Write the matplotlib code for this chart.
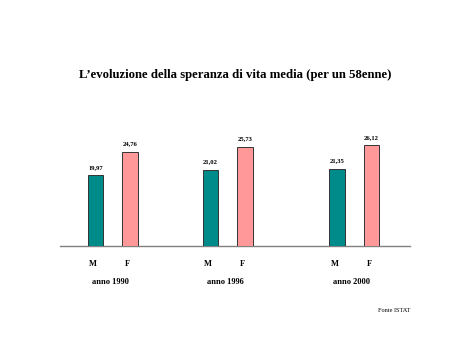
import matplotlib
matplotlib.use("Agg")
import matplotlib.pyplot as plt

years = ["anno 1990", "anno 1996", "anno 2000"]
sexes = ["M", "F"]
male = [19.97, 21.02, 21.35]
female = [24.76, 25.73, 26.12]
group_pos = [0, 1, 2.1]

teal = "#008b8b"
pink = "#ff9999"
serif = ["Liberation Serif", "DejaVu Serif"]

fig = plt.figure(figsize=(4.6, 3.44), dpi=100)
W, H = 460, 344
# axes box in pixels: x 60..410, y 114..246
ax = fig.add_axes([60 / W, (H - 246) / H, 350 / W, 132 / H])

off = 0.15
bw = 0.135
xm = [g - off for g in group_pos]
xf = [g + off for g in group_pos]
ax.bar(xm, male, width=bw, color=teal, edgecolor="#333333", linewidth=0.7, zorder=3)
ax.bar(xf, female, width=bw, color=pink, edgecolor="#333333", linewidth=0.7, zorder=3)

for x, v in list(zip(xm, male)) + list(zip(xf, female)):
    ax.annotate(f"{v:.2f}".replace(".", ","), (x, v), xytext=(0, 4),
                textcoords="offset points", ha="center", va="bottom",
                fontsize=4.8, fontweight="bold", family=serif)

ax.set_ylim(5.5, 32.5)
ax.set_xlim(-0.459, 2.585)
for s in ["top", "right", "left"]:
    ax.spines[s].set_visible(False)
ax.spines["bottom"].set_color("#808080")
ax.spines["bottom"].set_linewidth(1.0)
ax.set_xticks([])
ax.set_yticks([])

trans = ax.get_xaxis_transform()
for g, x1, x2, yr in zip(group_pos, xm, xf, years):
    ax.text(x1 - 0.02, -0.14, sexes[0], transform=trans, ha="center", va="center",
            fontsize=6, fontweight="bold", family=serif)
    ax.text(x2 - 0.02, -0.14, sexes[1], transform=trans, ha="center", va="center",
            fontsize=6, fontweight="bold", family=serif)
    ax.text(g - 0.02, -0.27, yr, transform=trans, ha="center", va="center",
            fontsize=6, fontweight="bold", family=serif)

fig.text(235 / W, 1 - 75 / H, "L\u2019evoluzione della speranza di vita media (per un 58enne)",
         ha="center", va="center", fontsize=9.2, fontweight="bold", family=serif)
fig.text(410 / W, 1 - 310 / H, "Fonte ISTAT", ha="right", va="center",
         fontsize=4.5, family=serif)

fig.savefig("out.png", dpi=100)
